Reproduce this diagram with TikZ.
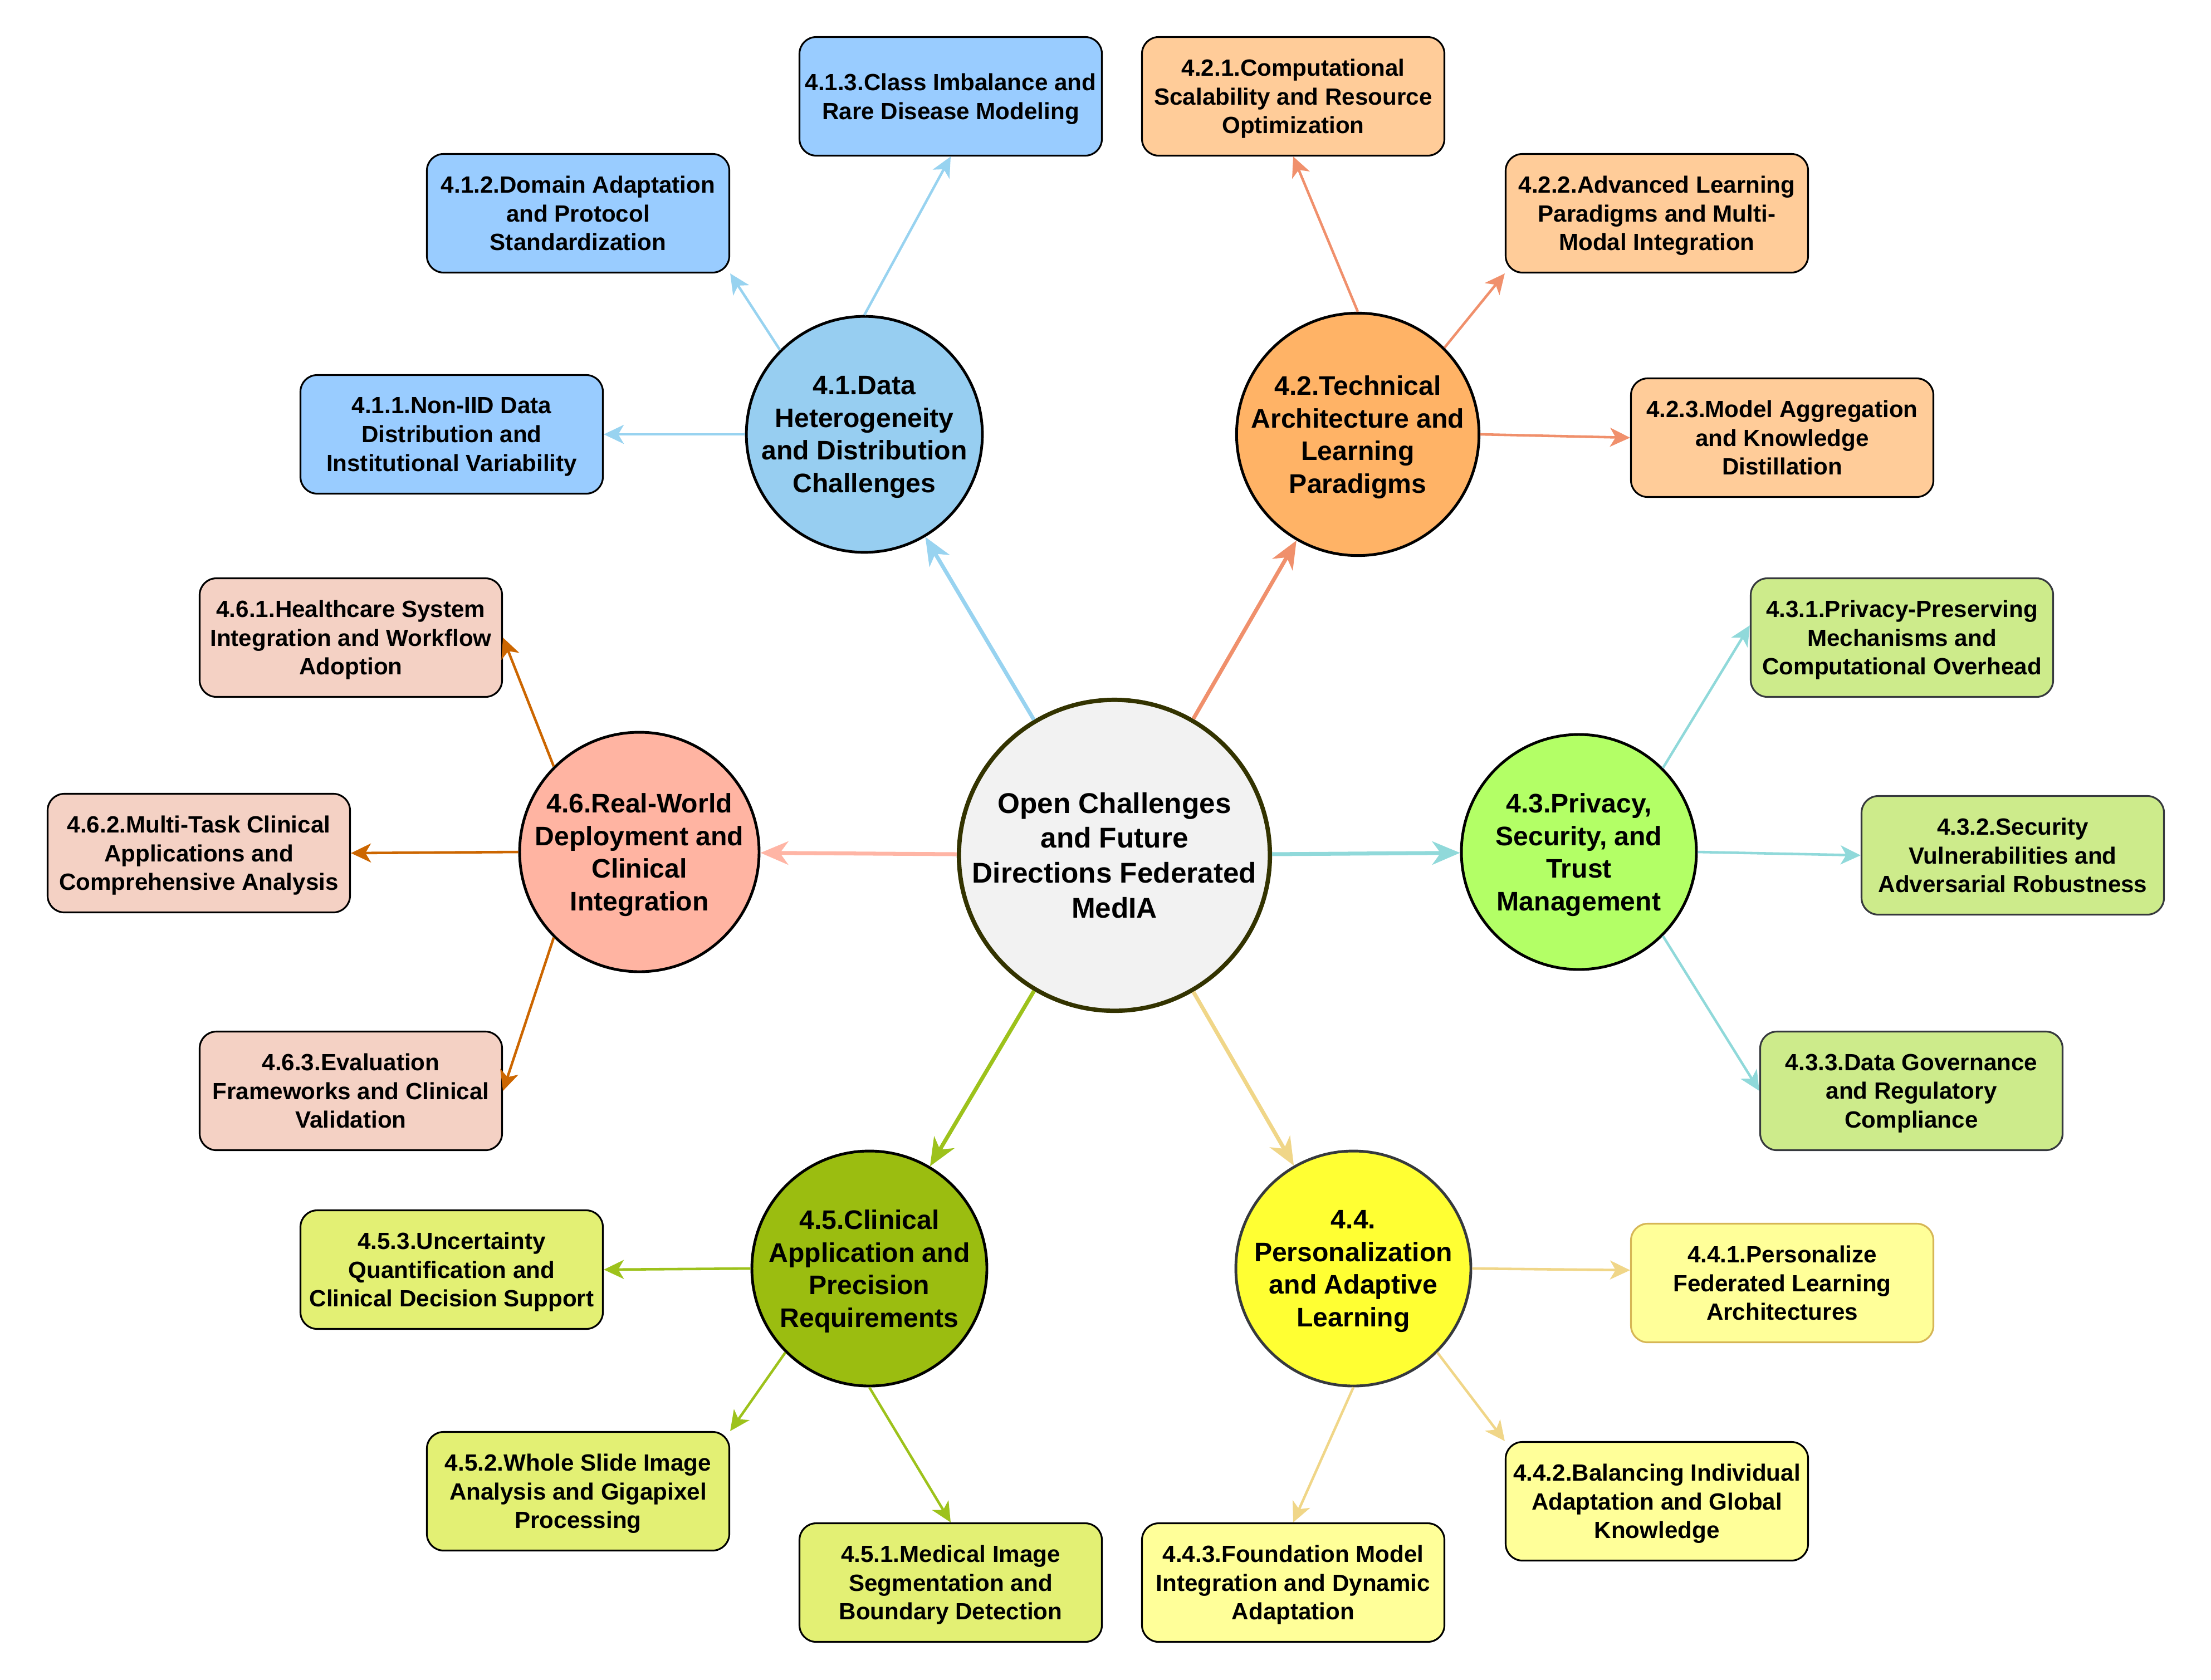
\documentclass[tikz,border=0pt]{standalone}
\usepackage{fontspec}
\setmainfont{Liberation Sans}
\usetikzlibrary{arrows.meta,calc}
\definecolor{hubfill}{HTML}{F2F2F2}
\definecolor{hubborder}{HTML}{333300}
\definecolor{aFill}{HTML}{97CEF1}
\definecolor{aBox}{HTML}{99CCFF}
\definecolor{aLine}{HTML}{98D3F0}
\definecolor{bFill}{HTML}{FFB366}
\definecolor{bBox}{HTML}{FFCC99}
\definecolor{bLine}{HTML}{F0906C}
\definecolor{cFill}{HTML}{B3FF66}
\definecolor{cBox}{HTML}{CDEB8B}
\definecolor{cLine}{HTML}{90D9DA}
\definecolor{dFill}{HTML}{FFFF33}
\definecolor{dBox}{HTML}{FFFF99}
\definecolor{dLine}{HTML}{F0D688}
\definecolor{eFill}{HTML}{9BBD10}
\definecolor{eBox}{HTML}{E3F074}
\definecolor{eLine}{HTML}{9DC21B}
\definecolor{fFill}{HTML}{FFB4A2}
\definecolor{fBox}{HTML}{F4D1C4}
\definecolor{fLine}{HTML}{CC6600}
\definecolor{fMain}{HTML}{FFB5A5}
\definecolor{grayborder}{HTML}{36393D}
\definecolor{goldborder}{HTML}{D6B656}
\tikzset{
  hub/.style={circle, draw=hubborder, line width=2.2pt, fill=hubfill, minimum size=5.28cm, inner sep=0pt, align=center, font=\fontsize{14.6}{17.9}\selectfont\bfseries},
  topic/.style={circle, draw=black, line width=1.4pt, minimum size=4.22cm, inner sep=0pt, align=center, text depth=0pt, font=\fontsize{13.7}{16.7}\selectfont\bfseries},
  leaf/.style={rectangle, rounded corners=0.3cm, draw=black, line width=0.9pt, minimum width=5.43cm, minimum height=2.13cm, inner sep=0pt, align=center, text depth=0pt, font=\fontsize{12}{14.7}\selectfont\bfseries},
  mainarrow/.style={line width=2pt, -{Stealth[length=0.5cm,width=0.42cm,inset=0.15cm]}},
  subarrow/.style={line width=1.3pt, -{Stealth[length=0.36cm,width=0.34cm,inset=0.1cm]}}
}
\begin{document}
\begin{tikzpicture}[x=1cm,y=-1cm]
\useasboundingbox (0,0) rectangle (39.70,30.16);
% hub
\node[hub] (C) at (20.01,15.36) {Open Challenges\\and Future\\Directions Federated\\MedIA};
% topics
\node[topic, fill=aFill] (T1) at (15.52,7.80) {4.1.Data\\Heterogeneity\\and Distribution\\Challenges};
\node[topic, fill=bFill] (T2) at (24.38,7.80) {4.2.Technical\\Architecture and\\Learning\\Paradigms};
\node[topic, fill=cFill] (T3) at (28.35,15.30) {4.3.Privacy,\\Security, and\\Trust\\Management};
\node[topic, fill=dFill, draw=grayborder] (T4) at (24.30,22.78) {4.4.\\Personalization\\and Adaptive\\Learning};
\node[topic, fill=eFill] (T5) at (15.61,22.78) {4.5.Clinical\\Application and\\Precision\\Requirements};
\node[topic, fill=fFill] (T6) at (11.48,15.30) {4.6.Real-World\\Deployment and\\Clinical\\Integration};
% leaves 4.1
\node[leaf, fill=aBox] (L11) at (8.11,7.80) {4.1.1.Non-IID Data\\Distribution and\\Institutional Variability};
\node[leaf, fill=aBox] (L12) at (10.38,3.83) {4.1.2.Domain Adaptation\\and Protocol\\Standardization};
\node[leaf, fill=aBox] (L13) at (17.07,1.73) {4.1.3.Class Imbalance and\\Rare Disease Modeling};
% leaves 4.2
\node[leaf, fill=bBox] (L21) at (23.22,1.73) {4.2.1.Computational\\Scalability and Resource\\Optimization};
\node[leaf, fill=bBox] (L22) at (29.75,3.83) {4.2.2.Advanced Learning\\Paradigms and Multi-\\Modal Integration};
\node[leaf, fill=bBox] (L23) at (32.00,7.86) {4.2.3.Model Aggregation\\and Knowledge\\Distillation};
% leaves 4.3
\node[leaf, fill=cBox, draw=grayborder] (L31) at (34.15,11.45) {4.3.1.Privacy-Preserving\\Mechanisms and\\Computational Overhead};
\node[leaf, fill=cBox, draw=grayborder] (L32) at (36.14,15.36) {4.3.2.Security\\Vulnerabilities and\\Adversarial Robustness};
\node[leaf, fill=cBox, draw=grayborder] (L33) at (34.32,19.59) {4.3.3.Data Governance\\and Regulatory\\Compliance};
% leaves 4.4
\node[leaf, fill=dBox, draw=goldborder] (L41) at (32.00,23.04) {4.4.1.Personalize\\Federated Learning\\Architectures};
\node[leaf, fill=dBox] (L42) at (29.75,26.96) {4.4.2.Balancing Individual\\Adaptation and Global\\Knowledge};
\node[leaf, fill=dBox] (L43) at (23.22,28.42) {4.4.3.Foundation Model\\Integration and Dynamic\\Adaptation};
% leaves 4.5
\node[leaf, fill=eBox] (L51) at (17.07,28.42) {4.5.1.Medical Image\\Segmentation and\\Boundary Detection};
\node[leaf, fill=eBox] (L52) at (10.38,26.78) {4.5.2.Whole Slide Image\\Analysis and Gigapixel\\Processing};
\node[leaf, fill=eBox] (L53) at (8.11,22.80) {4.5.3.Uncertainty\\Quantification and\\Clinical Decision Support};
% leaves 4.6
\node[leaf, fill=fBox] (L61) at (6.30,11.45) {4.6.1.Healthcare System\\Integration and Workflow\\Adoption};
\node[leaf, fill=fBox] (L62) at (3.57,15.32) {4.6.2.Multi-Task Clinical\\Applications and\\Comprehensive Analysis};
\node[leaf, fill=fBox] (L63) at (6.30,19.59) {4.6.3.Evaluation\\Frameworks and Clinical\\Validation};
% main arrows
\draw[mainarrow, aLine] (C) -- (T1);
\draw[mainarrow, bLine] (C) -- (T2);
\draw[mainarrow, cLine] (C) -- (T3);
\draw[mainarrow, dLine] (C) -- (T4);
\draw[mainarrow, eLine] (C) -- (T5);
\draw[mainarrow, fMain] (C) -- (T6);
% sub arrows 4.1
\draw[subarrow, aLine] (T1.west) -- (L11.east);
\draw[subarrow, aLine] (T1.north west) -- (L12.south east);
\draw[subarrow, aLine] (T1.north) -- (L13.south);
% 4.2
\draw[subarrow, bLine] (T2.north) -- (L21.south);
\draw[subarrow, bLine] (T2.north east) -- (L22.south west);
\draw[subarrow, bLine] (T2.east) -- (L23.west);
% 4.3
\draw[subarrow, cLine] (T3.north east) -- ($(L31.west)+(0,-0.22)$);
\draw[subarrow, cLine] (T3.east) -- (L32.west);
\draw[subarrow, cLine] (T3.south east) -- (L33.west);
% 4.4
\draw[subarrow, dLine] (T4.east) -- ($(L41.west)+(0,-0.23)$);
\draw[subarrow, dLine] (T4.south east) -- (L42.north west);
\draw[subarrow, dLine] (T4.south) -- (L43.north);
% 4.5
\draw[subarrow, eLine] (T5.south) -- (L51.north);
\draw[subarrow, eLine] (T5.south west) -- (L52.north east);
\draw[subarrow, eLine] (T5.west) -- (L53.east);
% 4.6
\draw[subarrow, fLine] (T6.north west) -- (L61.east);
\draw[subarrow, fLine] (T6.west) -- (L62.east);
\draw[subarrow, fLine] (T6.south west) -- (L63.east);
\end{tikzpicture}
\end{document}
